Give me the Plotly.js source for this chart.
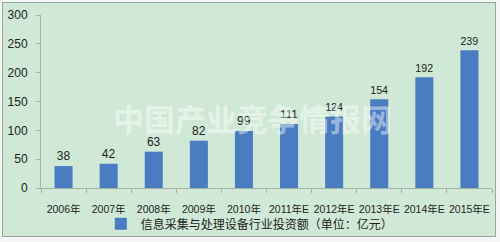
<!DOCTYPE html>
<html><head><meta charset="utf-8">
<script src="https://cdn.plot.ly/plotly-3.0.1.min.js"></script>
<style>
html,body{margin:0;padding:0;background:#f4f6f4;}
#bg{position:absolute;left:2px;top:2px;width:492px;height:233px;border:1px solid #9aa59c;background:#cfe9d6;}
#chart{position:absolute;left:0;top:0;width:500px;height:242px;}
</style></head>
<body>
<div id="bg"></div>
<div id="chart"></div>
<script>
const categories = ["2006年","2007年","2008年","2009年","2010年","2011年E","2012年E","2013年E","2014年E","2015年E"];
const values = [38,42,63,82,99,111,124,154,192,239];
const seriesName = "信息采集与处理设备行业投资额（单位：亿元）";
const yTicks = [0,50,100,150,200,250,300];
const watermark = "中国产业竞争情报网";

const font = "Liberation Sans, Noto Sans CJK SC, sans-serif";
const trace = {
  type: "bar", x: categories, y: values, name: seriesName,
  marker: {color: "#4a7cc1"},
  text: values.map(String), textposition: "outside", cliponaxis: false,
  textfont: {size: 12, color: "#222", family: font}
};
const layout = {
  width: 500, height: 242,
  margin: {l: 41, r: 8, t: 15, b: 54, autoexpand: false},
  paper_bgcolor: "rgba(0,0,0,0)", plot_bgcolor: "rgba(0,0,0,0)",
  bargap: 0.6, showlegend: true,
  font: {family: font, size: 11, color: "#222"},
  xaxis: {type: "category", showline: true, linecolor: "#a8b0a8", linewidth: 1,
    ticks: "outside", tickson: "boundaries", ticklen: 4, tickcolor: "#a8b0a8", tickangle: 0,
    tickfont: {size: 10.5, color: "#222"}, showgrid: false, ticklabelstandoff: 11},
  yaxis: {range: [0, 300], tickvals: yTicks, showline: true, linecolor: "#a8b0a8",
    ticks: "outside", ticklen: 4, tickcolor: "#a8b0a8", showgrid: false, zeroline: false,
    tickfont: {size: 12, color: "#222"}, ticklabelstandoff: 6},
  legend: {orientation: "h", x: 0.463, xanchor: "center", yref: "container", y: 0.075, yanchor: "middle",
    font: {size: 12, color: "#222", family: "Noto Sans CJK SC, sans-serif"}, bgcolor: "rgba(0,0,0,0)", itemwidth: 30},
  annotations: [{text: watermark, xref: "paper", yref: "paper", x: 0.468, y: 0.41,
    showarrow: false, font: {size: 31, color: "rgba(255,255,255,0.45)", family: "Noto Sans CJK SC", weight: "bold"}}]
};
Plotly.newPlot("chart", [trace], layout, {staticPlot: true});
</script>
</body></html>
